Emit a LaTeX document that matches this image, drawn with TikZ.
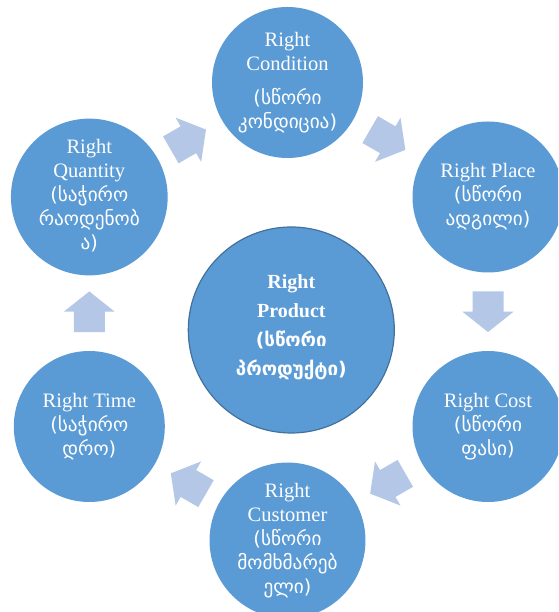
\documentclass[tikz,border=0pt]{standalone}
\usepackage{fontspec}
\setmainfont{Liberation Serif}
\newfontfamily\geofont[Scale=0.94]{DejaVu Sans}
\newcommand{\geotxt}[1]{{\geofont #1}}
\usetikzlibrary{calc}
\definecolor{circfill}{HTML}{5B9BD5}
\definecolor{arrfill}{HTML}{B4C7E7}
\definecolor{circline}{HTML}{41719C}
\tikzset{
  outercirc/.style={circle, fill=circfill, minimum size=151pt, inner sep=0pt,
    text=white, align=center, font=\fontsize{20.5}{24}\selectfont},
  innercirc/.style={circle, fill=circfill, draw=circline, line width=1.2pt,
    minimum size=206pt, inner sep=0pt},
  innertext/.style={text=white, align=center, inner sep=0pt,
    font=\bfseries\fontsize{20}{29}\selectfont},
  blockarr/.pic={\fill[arrfill] (-20.3,-15.5) -- (0,-15.5) -- (0,-25.5) -- (20.3,0)
    -- (0,25.5) -- (0,15.5) -- (-20.3,15.5) -- cycle;}
}
\begin{document}
\begin{tikzpicture}[x=1pt,y=1pt]
\useasboundingbox (0,0) rectangle (558,612);
\clip (0,0) rectangle (558,612);
\fill[white] (0,0) rectangle (558,612);
\node[outercirc] (cond) at (287.5,529.5)
  {\strut Right\\\strut Condition\\[9.7pt]\strut\geotxt{(სწორი}\\\strut\geotxt{კონდიცია)}};
\node[outercirc] (place) at (488,415)
  {\strut Right Place\\\strut\geotxt{(სწორი}\\\strut\geotxt{ადგილი)}};
\node[outercirc] (cost) at (488,185.5)
  {\strut Right Cost\\\strut\geotxt{(სწორი}\\\strut\geotxt{ფასი)}};
\node[outercirc] (cust) at (287.5,71.5)
  {\strut Right\\\strut Customer\\\strut\geotxt{(სწორი}\\\strut\geotxt{მომხმარებ}\\\strut\geotxt{ელი)}};
\node[outercirc] (time) at (89.3,185.5)
  {\strut Right Time\\\strut\geotxt{(საჭირო}\\\strut\geotxt{დრო)}};
\node[outercirc] (qty) at (89.3,415)
  {\strut Right\\\strut Quantity\\\strut\geotxt{(საჭირო}\\\strut\geotxt{რაოდენობ}\\\strut\geotxt{ა)}};
\node[innercirc] (prod) at (291.3,282) {};
\node[innertext] (prodtext) at ($(prod)+(0,4)$)
  {\strut Right\\\strut Product\\\strut\geotxt{(სწორი}\\\strut\geotxt{პროდუქტი)}};
\path ($(qty)!0.5!(cond)$) pic[rotate=30] {blockarr};
\path ($(cond)!0.5!(place)$) pic[rotate=-30] {blockarr};
\path ($(place)!0.5!(cost)$) pic[rotate=-90] {blockarr};
\path ($(cost)!0.5!(cust)$) pic[rotate=-150] {blockarr};
\path ($(cust)!0.5!(time)$) pic[rotate=150] {blockarr};
\path ($(time)!0.5!(qty)$) pic[rotate=90] {blockarr};
\end{tikzpicture}
\end{document}
